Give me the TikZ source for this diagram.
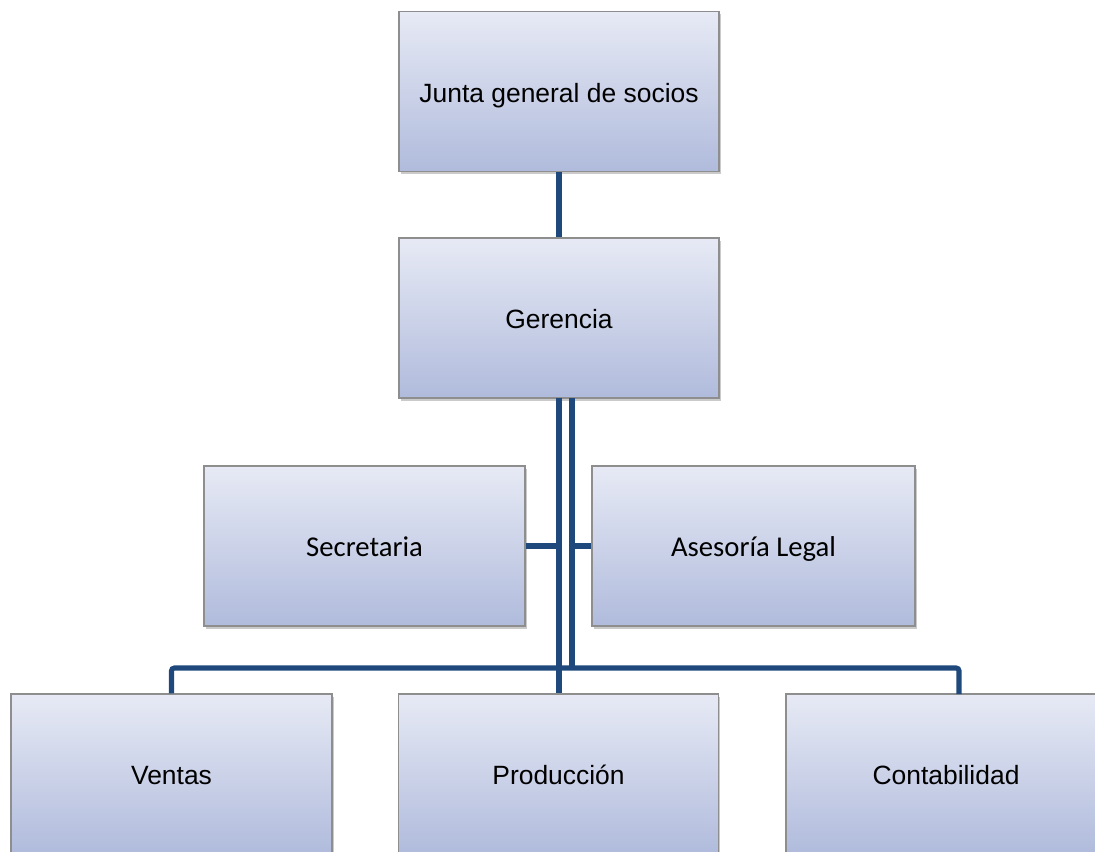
\documentclass[tikz,border=0pt]{standalone}
\usepackage{fontspec}
\setmainfont{Liberation Sans}
\newfontfamily\calibri{Carlito}
\usetikzlibrary{shadows}
\definecolor{boxtop}{HTML}{E7EAF5}
\definecolor{boxbot}{HTML}{B0BBDC}
\definecolor{boxline}{HTML}{8E8E8E}
\definecolor{linkblue}{HTML}{1F497D}
\tikzset{
  puesto/.style={draw=boxline, line width=0.8pt, top color=boxtop, bottom color=boxbot,
    minimum width=8cm, minimum height=4cm, inner sep=0pt,
    text height=17pt, text depth=2pt,
    font=\fontsize{18.8}{22}\selectfont,
    drop shadow={shadow xshift=1.2pt, shadow yshift=-2pt, opacity=0.35, fill=black!60}},
  apoyo/.style={puesto, font=\calibri\fontsize{20.4}{24}\selectfont},
  enlace/.style={draw=linkblue, line width=3.6pt, rounded corners=2pt}
}
\begin{document}
\begin{tikzpicture}[x=0.025cm, y=-0.025cm]
  \useasboundingbox (0,0) rectangle (1095,851);
  % cajas
  \node[puesto] (junta) at (559,91.5) {Junta general de socios};
  \node[puesto] (gerencia) at (559,318) {Gerencia};
  \node[apoyo, minimum width=8.025cm] (secre) at (364.5,546) {Secretaria};
  \node[apoyo, minimum width=8.075cm] (legal) at (753.5,546) {Asesoría Legal};
  \node[puesto, minimum width=8.025cm] (ventas) at (171.5,774) {Ventas};
  \node[puesto] (prod) at (558.5,774) {Producción};
  \node[puesto] (conta) at (946,774) {Contabilidad};
  % puntos de paso
  \coordinate (gizq) at (559,398);
  \coordinate (gder) at (572,398);
  \coordinate (bus) at (572,668);
  \coordinate (contatop) at (959,694);
  % lineas
  \draw[enlace] (junta.south) -- (gerencia.north);
  \draw[enlace] (gizq) -- (gizq |- prod.north);
  \draw[enlace] (gder) -- (bus);
  \draw[enlace] (ventas.north) |- (bus) -| (contatop);
  \draw[enlace] (secre.east) -- (gizq |- secre.east);
  \draw[enlace] (gder |- legal.west) -- (legal.west);
\end{tikzpicture}
\end{document}
